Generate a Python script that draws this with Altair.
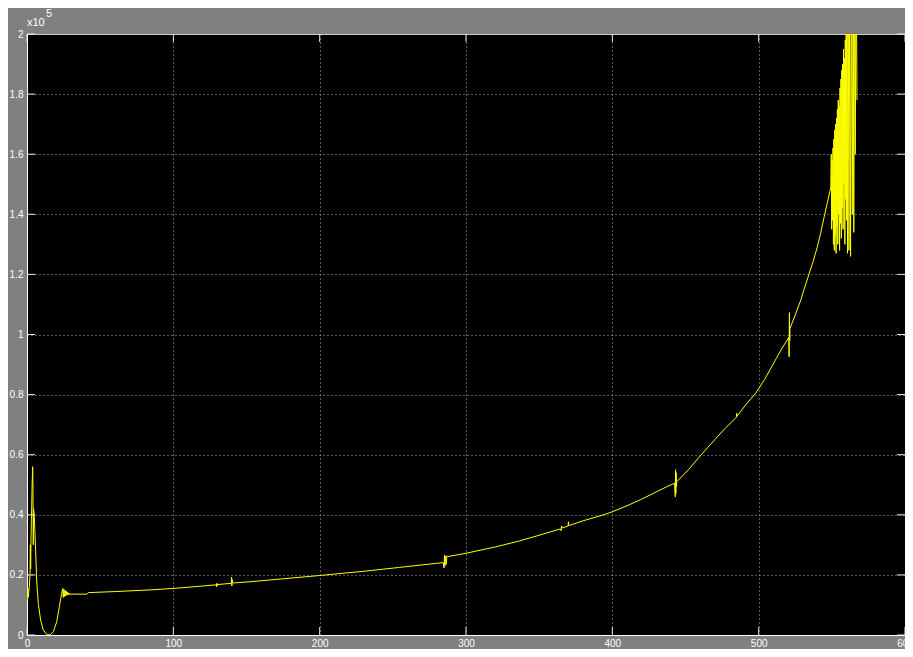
import altair as alt
import pandas as pd

# time axis values (s) and signal values (raw units, axis shows x10^5)
t_values = [
    0, 0.3, 0.6, 0.9, 1.2, 1.6, 2.05, 2.3, 2.5, 2.73, 3.0, 3.2, 3.5, 3.87, 4.1, 4.3, 4.5,
    5.0, 5.9, 6.6, 7.7, 9.3, 11.1, 13.4, 15.7, 18.0, 20.3, 22.1, 23.7, 24.4,
    24.8, 25.2, 25.6, 26.0, 26.4, 26.8, 27.2, 27.6, 28.0, 28.4, 28.8, 29.2, 29.6, 30.0,
    41.0, 42.0, 60.0, 84.0, 100.0, 120.0,
    129.3, 129.5, 129.7, 129.9, 130.1, 130.5,
    139.6, 139.8, 140.0, 140.2, 140.6,
    152.0, 175.0, 200.0, 230.0, 254.6, 284.5,
    285.0, 285.3, 285.6, 286.0, 286.5, 287.0, 287.5,
    300.0, 320.0, 336.5, 350.0, 364.5, 365.0, 365.3, 365.6, 369.8, 370.0, 370.2,
    380.0, 394.0, 400.0, 410.0, 420.0, 430.0, 437.0,
    442.5, 443.0, 443.2, 443.4, 443.6, 443.8, 444.0,
    452.0, 459.0, 465.0, 470.0, 477.0, 484.8, 485.0, 485.2, 491.0, 498.0, 504.0, 508.0, 512.0, 516.0,
    520.6, 520.8, 521.0, 521.2, 521.4, 525.0, 528.8, 531.0, 534.0, 537.0, 540.0, 542.5, 544.7, 547.0, 549.3,
    549.6, 549.9, 550.2, 550.5, 550.8, 551.1, 551.4, 551.7, 552.0, 552.3, 552.6, 552.9,
    553.2, 553.5, 553.8, 554.1, 554.4, 554.7, 555.0, 555.3, 555.6, 555.9, 556.2, 556.5,
    556.8, 557.1, 557.4, 557.7, 558.0, 558.3, 558.6, 558.9, 559.2, 559.5, 559.8, 560.1,
    560.4, 560.7, 561.2, 561.7, 562.2, 562.8, 563.4, 564.0, 564.6, 565.0, 565.5, 566.0,
    566.6, 567.2,
]
y_values = [
    14000, 11500, 15500, 12500, 14500, 16000, 20500, 30000, 22000, 31600, 38000, 42700, 50000, 56000, 48000, 30000, 42000,
    39400, 28300, 18300, 10500, 5000, 1700, 200, 0, 1100, 4400, 9400, 13900, 15500,
    12500, 15200, 12800, 14900, 13000, 14600, 13200, 14300, 13300, 14000, 13400, 13800, 13500, 13600,
    13600, 14100, 14450, 15000, 15500, 16300,
    16700, 16100, 17200, 16300, 16900, 16800,
    17200, 19300, 16300, 18500, 17300,
    17700, 18700, 19800, 21200, 22500, 24100,
    22300, 26600, 23000, 26300, 23500, 26400, 26100,
    27200, 29300, 31300, 33200, 35300, 34700, 36300, 35600, 36300, 37700, 36400,
    38000, 40000, 41000, 43000, 45200, 47600, 49300,
    50500, 46000, 55000, 47000, 54000, 49500, 51000,
    55000, 59000, 62300, 65000, 68700, 72500, 73800, 72800, 76500, 80500, 85000, 88500, 92000, 95500,
    99000, 92600, 107300, 98000, 102000, 106500, 111500, 115000, 119500, 124000, 129000, 134000, 139000, 144000, 149000,
    160000, 135000, 158000, 138000, 162000, 130000, 165000, 128000, 168000, 133000, 170000, 127000,
    172000, 136000, 175000, 130000, 178000, 140000, 176000, 128000, 182000, 137000, 185000, 132000,
    188000, 142000, 190000, 135000, 195000, 150000, 192000, 130000, 198000, 145000, 205000, 138000,
    210000, 127000, 215000, 128000, 220000, 126000, 225000, 140000, 230000, 134000, 225000, 160000,
    230000, 178000,
]
x_ticks = [0, 100, 200, 300, 400, 500, 600]
y_ticks = [0, 20000, 40000, 60000, 80000, 100000, 120000, 140000, 160000, 180000, 200000]

W, H = 878, 601
TICK = 8

df = pd.DataFrame({"t": t_values, "v": y_values, "i": list(range(len(t_values)))})
xt = pd.DataFrame({"t": x_ticks})
yt = pd.DataFrame({"v": y_ticks})

xs = alt.Scale(domain=[0, 600], nice=False, zero=False)
ys = alt.Scale(domain=[0, 200000], nice=False, zero=False)
xaxis = alt.Axis(values=x_ticks, title=None, format="d", labelPadding=3, labelFlush=False)
yaxis = alt.Axis(values=y_ticks, title=None, labelExpr="format(datum.value/1e5, '~g')",
                 labelPadding=4, labelFlush=False)

line = alt.Chart(df).mark_line(color="#ffff00", strokeWidth=1, clip=True).encode(
    x=alt.X("t:Q", scale=xs, axis=xaxis),
    y=alt.Y("v:Q", scale=ys, axis=yaxis),
    order=alt.Order("i:Q"),
)

tick_color = "#e8e8e8"
left_ticks = alt.Chart(yt).mark_rule(color=tick_color, strokeWidth=1).encode(
    y=alt.Y("v:Q", scale=ys, axis=yaxis), x=alt.value(0), x2=alt.value(TICK))
right_ticks = alt.Chart(yt).mark_rule(color=tick_color, strokeWidth=1).encode(
    y=alt.Y("v:Q", scale=ys, axis=yaxis), x=alt.value(W - TICK), x2=alt.value(W))
bottom_ticks = alt.Chart(xt).mark_rule(color=tick_color, strokeWidth=1).encode(
    x=alt.X("t:Q", scale=xs, axis=xaxis), y=alt.value(H - TICK), y2=alt.value(H))
top_ticks = alt.Chart(xt).mark_rule(color=tick_color, strokeWidth=1).encode(
    x=alt.X("t:Q", scale=xs, axis=xaxis), y=alt.value(0), y2=alt.value(TICK))

one = pd.DataFrame({"a": [0]})
exp_base = alt.Chart(one).mark_text(text="x10", align="left", baseline="alphabetic",
                                    color="#ffffff", fontSize=11, font="Liberation Sans").encode(
    x=alt.value(0), y=alt.value(-8))
exp_pow = alt.Chart(one).mark_text(text="5", align="left", baseline="alphabetic",
                                   color="#ffffff", fontSize=11, font="Liberation Sans").encode(
    x=alt.value(19), y=alt.value(-17))

chart = alt.layer(line, left_ticks, right_ticks, bottom_ticks, top_ticks, exp_base, exp_pow).properties(
    width=W, height=H,
    autosize=alt.AutoSizeParams(type="none"),
    padding={"left": 19, "top": 26, "right": 0, "bottom": 14},
).configure(background="#808080").configure_view(
    fill="#000000", stroke="#d0d0d0", strokeWidth=1
).configure_axis(
    domainColor="#ffffff", domainWidth=1, ticks=False,
    labelColor="#ffffff", labelFont="Liberation Sans", labelFontSize=10,
    gridColor="#b8b8b8", gridDash=[1, 3], gridWidth=1, gridOpacity=1,
)

chart.save("out.html", embed_options={"renderer": "svg", "actions": False})
